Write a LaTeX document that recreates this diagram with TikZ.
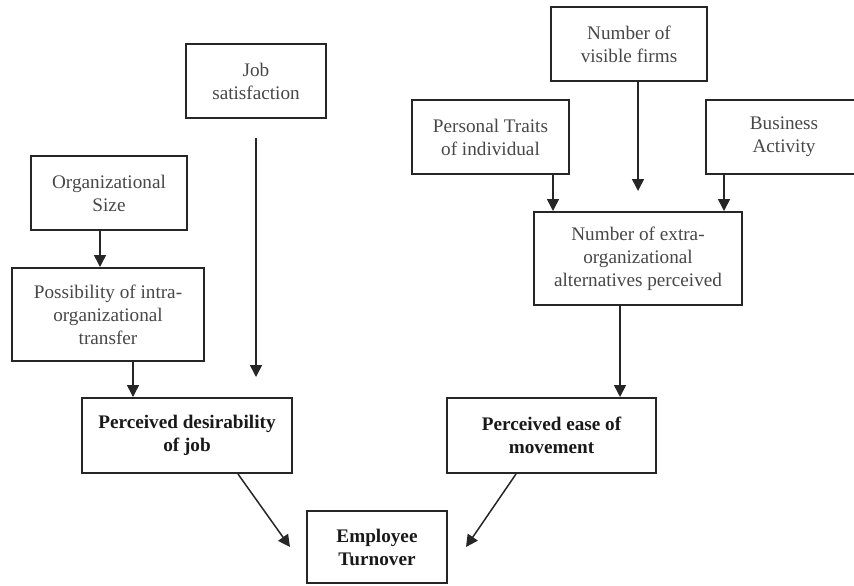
\documentclass[tikz,border=0pt]{standalone}
\usepackage{fontspec}
\setmainfont{Liberation Serif}
\usetikzlibrary{arrows.meta}
\tikzset{
  factor/.style={draw=black!85, line width=1pt, inner sep=0pt, align=center,
    text=black!72, font=\fontsize{9.6pt}{11.5pt}\selectfont},
  mainfactor/.style={factor, text=black!90, font=\fontsize{9.6pt}{11.5pt}\selectfont\bfseries},
  arr/.style={draw=black!85, line width=0.75pt, -{Triangle[width=6pt,length=6pt]}}
}

\begin{document}
\begin{tikzpicture}[x=0.5pt, y=-0.5pt]
  \clip (0,0) rectangle (854,585);

  % left branch
  \node[factor, minimum width=78pt, minimum height=37pt] (orgsize) at (109,193) {Organizational\\Size};
  \node[factor, minimum width=96pt, minimum height=46.5pt] (possib) at (108,314.5) {Possibility of intra-\\organizational\\transfer};
  \node[factor, minimum width=70pt, minimum height=37pt] (jobsat) at (256,81) {Job\\satisfaction};
  \node[mainfactor, minimum width=105pt, minimum height=37.5pt] (desir) at (187,435.5) {Perceived desirability\\of job};

  % right branch
  \node[factor, minimum width=78pt, minimum height=37pt] (firms) at (629,44) {Number of\\visible firms};
  \node[factor, minimum width=78.5pt, minimum height=37pt] (traits) at (490.5,137) {Personal Traits\\of individual};
  \node[factor, minimum width=78pt, minimum height=37pt] (business) at (784,137) {Business\\Activity};
  \node[factor, minimum width=104pt, minimum height=46.5pt] (extra) at (638,258.5) {Number of extra-\\organizational\\alternatives perceived};
  \node[mainfactor, minimum width=104.5pt, minimum height=37.5pt] (ease) at (551.5,435.5) {Perceived ease of\\movement};

  \node[mainfactor, minimum width=70pt, minimum height=36pt] (turnover) at (377,547) {Employee\\Turnover};

  \draw[arr] ([xshift=-4.5pt]orgsize.south) -- ([xshift=-4.5pt]orgsize.south |- possib.north);
  \draw[arr] ([xshift=26pt]desir.north west |- possib.south) -- ([xshift=26pt]desir.north west);
  \draw[arr, shorten <=9.5pt, shorten >=10pt] (jobsat.south) -- (jobsat.south |- desir.north);

  \draw[arr, shorten >=10pt] (firms.south -| extra.north) -- (extra.north);
  \draw[arr] ([xshift=-8.5pt]traits.south east) -- ([xshift=-8.5pt]traits.south east |- extra.north);
  \draw[arr] ([xshift=9.5pt]business.south west) -- ([xshift=9.5pt]business.south west |- extra.north);
  \draw[arr] ([xshift=-9pt]extra.south) -- ([xshift=-9pt]extra.south |- ease.north);

  \draw[arr] ([xshift=25.5pt]desir.south) -- ([xshift=-8pt]turnover.west);
  \draw[arr] ([xshift=-17.75pt]ease.south) -- ([xshift=9pt]turnover.east);
\end{tikzpicture}
\end{document}
